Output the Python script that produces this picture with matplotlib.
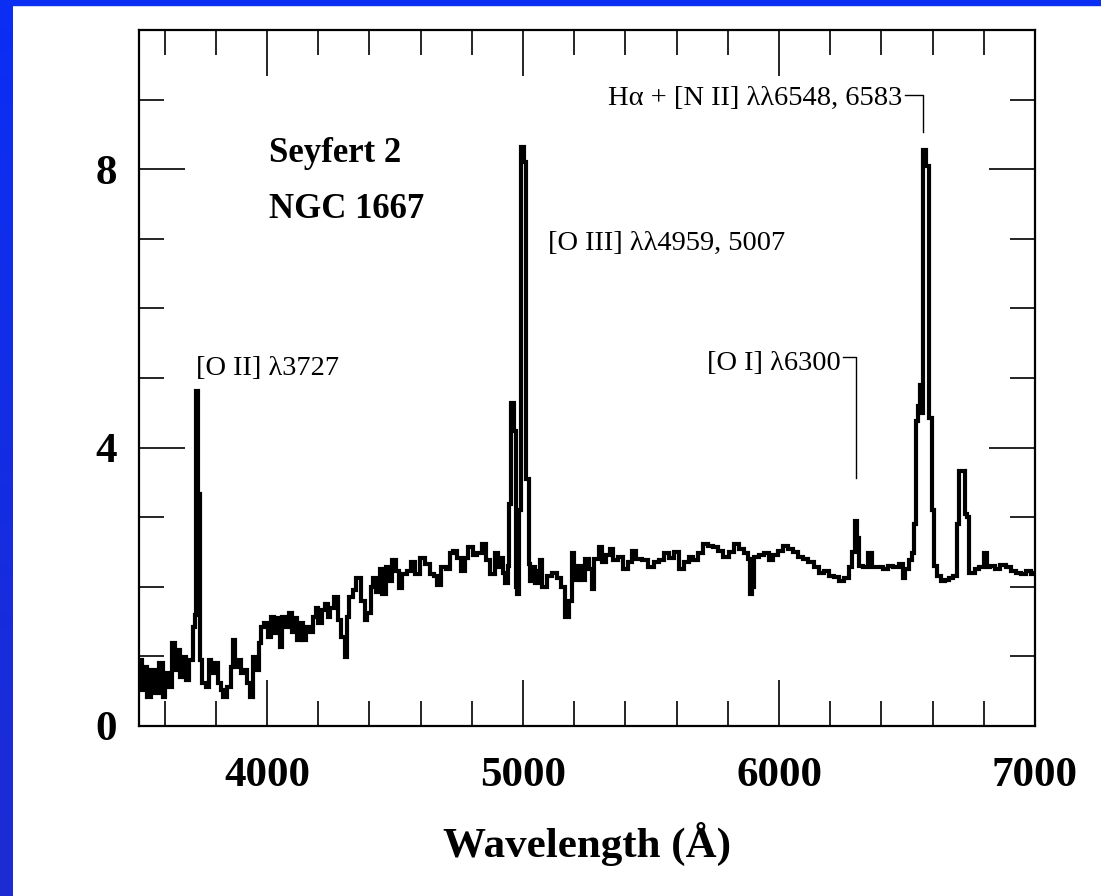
import numpy as np
import matplotlib
matplotlib.use("Agg")
import matplotlib.pyplot as plt
from matplotlib.ticker import MultipleLocator, FixedLocator

# Optical spectrum of NGC 1667 (rest-frame wavelength in Angstrom, relative flux)
wavelength = [
    3500, 3504, 3516, 3527, 3539, 3555, 3570, 3586, 3598, 3609, 3625, 3633, 3645, 3656,
    3668, 3680, 3691, 3703, 3715, 3720, 3724, 3730, 3733, 3738, 3742, 3754, 3766, 3777,
    3789, 3801, 3813, 3824, 3836, 3852, 3863, 3871, 3879, 3891, 3902, 3914, 3926, 3938,
    3949, 3961, 3973, 3984, 3996, 4008, 4020, 4031, 4043, 4055, 4066, 4078, 4090, 4102,
    4113, 4125, 4137, 4148, 4160, 4172, 4184, 4195, 4207, 4219, 4231, 4242, 4250, 4270,
    4281, 4297, 4309, 4316, 4328, 4340, 4359, 4375, 4387, 4398, 4414, 4418, 4434, 4445,
    4457, 4473, 4484, 4496, 4512, 4523, 4535, 4555, 4570, 4590, 4609, 4629, 4641, 4660,
    4668, 4688, 4707, 4719, 4738, 4750, 4766, 4777, 4797, 4809, 4828, 4848, 4863, 4883,
    4895, 4906, 4916, 4926, 4935, 4944, 4949, 4955, 4961, 4965, 4971, 4975, 4982, 4986,
    4992, 4996, 5003, 5006, 5012, 5015, 5020, 5024, 5031, 5040, 5051, 5063, 5070, 5082,
    5102, 5121, 5141, 5156, 5172, 5184, 5195, 5207, 5219, 5234, 5250, 5266, 5273, 5285,
    5305, 5316, 5332, 5344, 5363, 5383, 5402, 5422, 5430, 5453, 5480, 5500, 5520, 5539,
    5559, 5578, 5598, 5617, 5637, 5656, 5676, 5695, 5715, 5734, 5754, 5773, 5793, 5813,
    5832, 5852, 5871, 5883, 5891, 5898, 5910, 5930, 5949, 5969, 5988, 6008, 6027, 6047,
    6066, 6086, 6105, 6125, 6145, 6164, 6184, 6203, 6223, 6242, 6262, 6281, 6293, 6301,
    6309, 6316, 6340, 6359, 6371, 6398, 6418, 6437, 6457, 6477, 6488, 6500, 6516, 6523,
    6531, 6539, 6547, 6555, 6559, 6563, 6570, 6576, 6582, 6586, 6594, 6602, 6609, 6625,
    6641, 6656, 6672, 6688, 6699, 6707, 6715, 6723, 6730, 6738, 6746, 6758, 6770, 6789,
    6809, 6816, 6836, 6855, 6875, 6895, 6914, 6934, 6953, 6973, 6992, 7000,
]
flux = [
    0.90, 0.95, 0.52, 0.85, 0.42, 0.80, 0.47, 0.90, 0.42, 0.76, 0.56, 1.19, 0.80, 1.09,
    0.70, 0.99, 0.66, 0.95, 1.42, 1.60, 4.82, 4.82, 3.34, 3.34, 0.95, 0.62, 0.56, 0.95,
    0.76, 0.90, 0.62, 0.52, 0.42, 0.56, 0.85, 1.23, 0.85, 0.95, 0.76, 0.80, 0.62, 0.42,
    0.99, 0.80, 1.19, 1.42, 1.48, 1.28, 1.56, 1.33, 1.55, 1.13, 1.56, 1.42, 1.62, 1.35,
    1.55, 1.23, 1.48, 1.23, 1.42, 1.35, 1.56, 1.69, 1.48, 1.66, 1.76, 1.56, 1.69, 1.85,
    1.52, 1.28, 0.99, 1.56, 1.85, 1.95, 2.13, 1.80, 1.52, 1.62, 1.99, 2.13, 1.92, 2.26,
    1.90, 2.28, 2.09, 2.38, 2.23, 1.98, 2.19, 2.23, 2.35, 2.19, 2.41, 2.33, 2.19, 2.16,
    2.02, 2.28, 2.26, 2.48, 2.52, 2.42, 2.23, 2.42, 2.57, 2.45, 2.48, 2.62, 2.38, 2.19,
    2.48, 2.28, 2.42, 2.20, 2.05, 2.30, 3.19, 4.64, 4.64, 4.24, 4.24, 2.00, 1.90, 3.10,
    3.10, 8.32, 8.32, 8.10, 8.10, 3.55, 3.55, 2.33, 2.09, 2.28, 2.05, 2.23, 2.38, 2.00,
    2.16, 2.20, 2.13, 2.00, 1.57, 1.80, 2.48, 2.10, 2.30, 2.10, 2.40, 2.25, 1.97, 2.40,
    2.57, 2.35, 2.45, 2.55, 2.38, 2.43, 2.25, 2.35, 2.52, 2.40, 2.38, 2.28, 2.35, 2.38,
    2.48, 2.42, 2.50, 2.25, 2.35, 2.43, 2.38, 2.48, 2.62, 2.59, 2.57, 2.52, 2.43, 2.50,
    2.62, 2.55, 2.48, 2.40, 1.90, 2.00, 2.43, 2.45, 2.48, 2.38, 2.45, 2.52, 2.58, 2.55,
    2.50, 2.43, 2.40, 2.35, 2.28, 2.20, 2.22, 2.16, 2.14, 2.09, 2.13, 2.28, 2.50, 2.95,
    2.70, 2.30, 2.28, 2.48, 2.28, 2.28, 2.26, 2.30, 2.28, 2.33, 2.13, 2.25, 2.38, 2.48,
    2.90, 4.38, 4.60, 4.90, 4.50, 8.28, 8.28, 8.04, 8.04, 4.43, 4.43, 3.10, 2.30, 2.16,
    2.09, 2.10, 2.13, 2.16, 2.90, 3.67, 3.67, 3.67, 3.05, 3.00, 2.20, 2.20, 2.26, 2.28,
    2.48, 2.28, 2.30, 2.26, 2.32, 2.28, 2.22, 2.20, 2.19, 2.22, 2.18, 2.20,
]

x_major = [4000, 5000, 6000, 7000]
y_major = [0, 4, 8]

serif = "Liberation Serif"
frame_blue = "#0b2ef3"

fig = plt.figure(figsize=(11.01, 8.96), dpi=100)
fig.patch.set_facecolor("white")

# blue slide frame: left bar with a slight vertical gradient and a thin top band
bar = fig.add_axes([0, 0, 13 / 1101, 1])
grad = np.linspace(0, 1, 256).reshape(-1, 1)
top_rgb = np.array([0x0b, 0x2e, 0xf5]) / 255
bot_rgb = np.array([0x1c, 0x2c, 0xd2]) / 255
img = top_rgb[None, None, :] * (1 - grad[:, :, None]) + bot_rgb[None, None, :] * grad[:, :, None]
bar.imshow(img, aspect="auto", extent=[0, 1, 0, 1])
bar.set_axis_off()
fig.patches.append(plt.Rectangle((0, 1 - 5 / 896), 1, 5 / 896, transform=fig.transFigure,
                                 color=frame_blue, zorder=0))

ax = fig.add_axes([139 / 1101, 1 - 726 / 896, (1035 - 139) / 1101, (726 - 30) / 896])
ax.plot(wavelength, flux, color="black", lw=3.0, drawstyle="steps-mid",
        solid_joinstyle="miter")

ax.set_xlim(3500, 7000)
ax.set_ylim(0, 10)
ax.xaxis.set_major_locator(FixedLocator(x_major))
ax.xaxis.set_minor_locator(MultipleLocator(200))
ax.yaxis.set_major_locator(FixedLocator(y_major))
ax.yaxis.set_minor_locator(MultipleLocator(1))

for side in ax.spines.values():
    side.set_linewidth(1.6)
ax.tick_params(which="both", direction="in", top=True, right=True, width=1.2, color="black")
ax.tick_params(which="major", length=33)
ax.tick_params(which="minor", length=18)
ax.tick_params(axis="x", which="major", pad=22)
ax.tick_params(axis="y", which="major", pad=16)
for lab in ax.get_xticklabels() + ax.get_yticklabels():
    lab.set_fontfamily(serif)
    lab.set_fontweight("bold")
    lab.set_fontsize(31)

fig.text(587 / 1101, 1 - 857 / 896, "Wavelength (Å)", family=serif, weight="bold",
         fontsize=31, ha="center", va="baseline")

# object name
ax.text(4008, 8.1, "Seyfert 2", family=serif, weight="bold", fontsize=25,
        ha="left", va="baseline")
ax.text(4008, 7.3, "NGC 1667", family=serif, weight="bold", fontsize=25,
        ha="left", va="baseline")

# line identifications
note = dict(family=serif, fontsize=20.5, va="center")
ax.text(3723, 5.13, "[O II] λ3727", ha="left", **note)
ax.text(5098, 6.93, "[O III] λλ4959, 5007", ha="left", **note)
ax.text(6242, 5.21, "[O I] λ6300", ha="right", **note)
ax.plot([6250, 6300, 6300], [5.30, 5.30, 3.57], color="black", lw=1.0)
ax.text(6480, 9.01, "Hα + [N II] λλ6548, 6583", ha="right", **note)
ax.plot([6493, 6563, 6563], [9.07, 9.07, 8.54], color="black", lw=1.0)

fig.savefig("out.png", dpi=100, facecolor="white")
